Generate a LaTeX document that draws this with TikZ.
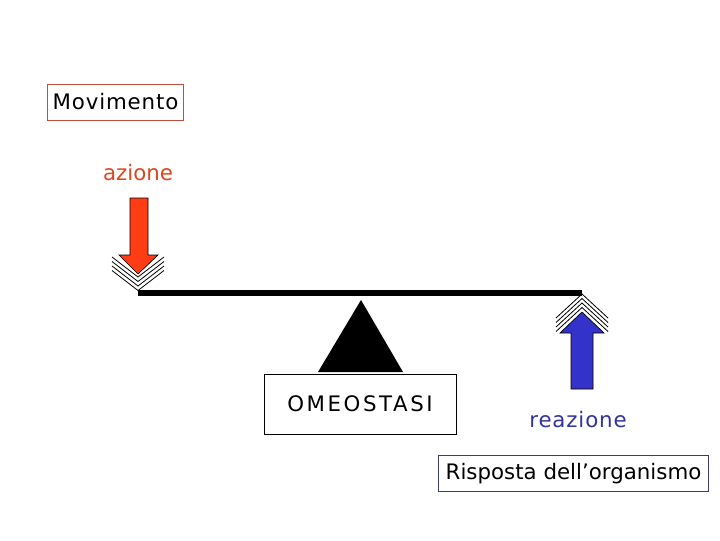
\documentclass[tikz,border=0pt]{standalone}
\usepackage{fontspec}
\setmainfont{DejaVu Sans}
\begin{document}
\begin{tikzpicture}[x=0.75pt,y=-0.75pt,
  lbl/.style={inner sep=0pt, font=\fontsize{16}{19}\selectfont},
  boxed/.style={draw, line width=0.75pt, minimum height=27pt, inner sep=0pt}]
\definecolor{brownred}{RGB}{192,80,60}
\definecolor{arrred}{RGB}{255,60,20}
\definecolor{azred}{RGB}{220,70,30}
\definecolor{arrblue}{RGB}{51,51,204}
\definecolor{rzblue}{RGB}{51,51,160}
\definecolor{boxblue}{RGB}{60,60,110}
\useasboundingbox (0,0) rectangle (720,540);
% text boxes
\node[boxed, draw=brownred, minimum width=102pt, lbl] (mov) at (115.5,102) {\addfontfeature{LetterSpace=4}Movimento};
\node[lbl, text=azred] (az) at (138,173) {azione};
\node[boxed, minimum width=144pt, minimum height=45pt, lbl] (omeo) at (360,404) {\addfontfeature{LetterSpace=12}OMEOSTASI};
\node[lbl, text=rzblue] (rz) at (578,420) {\addfontfeature{LetterSpace=4}reazione};
\node[boxed, draw=boxblue, minimum width=203pt, lbl] (risp) at (573.5,473.5) {Risposta dell’organismo};
% lever
\coordinate (barL) at (138,293);
\coordinate (barR) at (582,293);
\draw[line width=4pt] (barL) -- (barR);
\fill (361,300) -- (403,372) -- (318,372) -- cycle;
% red arrow
\filldraw[fill=arrred, draw=black, line width=0.5pt]
  (130,198) -- (148,198) -- (148,255) -- (158,255) -- (138,274) -- (119,255) -- (130,255) -- cycle;
% chevrons left
\foreach \d in {0,4.5,9,13.5}
  \draw[line width=0.6pt] (112,257+\d) -- (138,281+\d-4) -- (164,257+\d);
% chevrons right
\foreach \d in {0,4.5,9,13.5}
  \draw[line width=0.6pt] (556,318+\d) -- (582,294+\d) -- (608,318+\d);
% blue arrow
\filldraw[fill=arrblue, draw=black, line width=0.5pt]
  (571,389) -- (593,389) -- (593,333) -- (604,333) -- (582,312) -- (560,333) -- (571,333) -- cycle;
\end{tikzpicture}
\end{document}
